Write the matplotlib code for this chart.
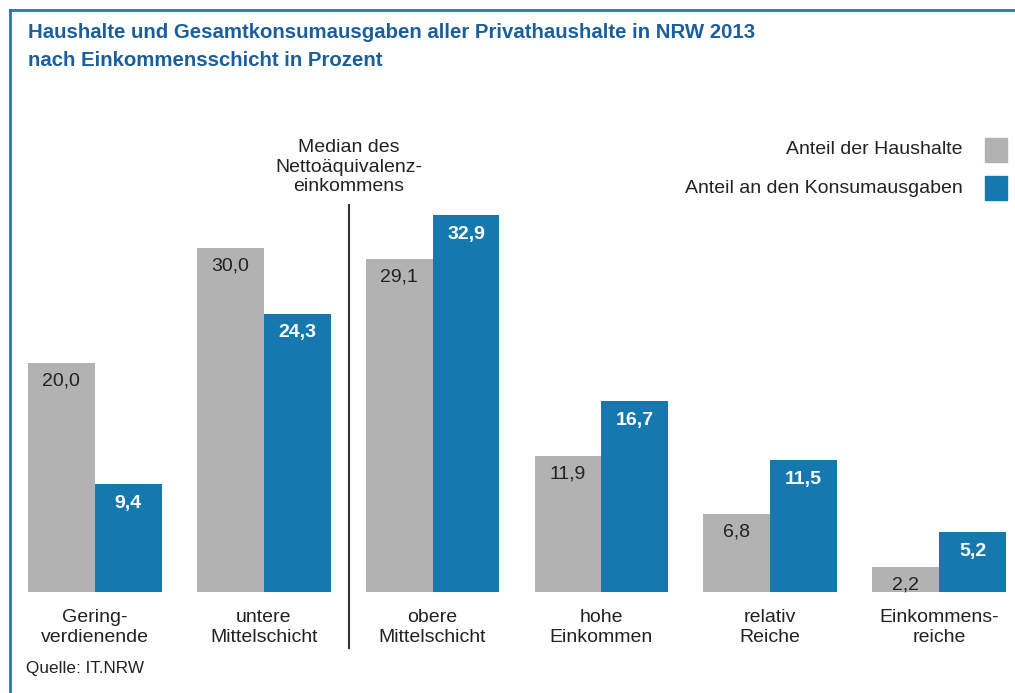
import matplotlib.pyplot as plt
from matplotlib.lines import Line2D
from matplotlib.patches import Rectangle
import numpy as np

plt.rcParams['font.family'] = ['Liberation Sans', 'DejaVu Sans']

# Data
categories = ['Gering-\nverdienende', 'untere\nMittelschicht', 'obere\nMittelschicht',
              'hohe\nEinkommen', 'relativ\nReiche', 'Einkommens-\nreiche']
haushalte = [20.0, 30.0, 29.1, 11.9, 6.8, 2.2]
konsum = [9.4, 24.3, 32.9, 16.7, 11.5, 5.2]
series_names = ['Anteil der Haushalte', 'Anteil an den Konsumausgaben']

GRAY = '#b3b2b2'
BLUE = '#1579b0'
TITLE_BLUE = '#1a5f9c'
TEXT = '#222222'
FS = 14

W, H = 1015, 693
fig = plt.figure(figsize=(W / 100, H / 100), dpi=100)


def fx(px):
    return px / W


def fy(py):
    return 1 - py / H


# frame: top and left blue lines
fig.add_artist(Line2D([fx(10), 1], [fy(10), fy(10)], color='#2a72b5', lw=2))
fig.add_artist(Line2D([fx(10), fx(10)], [fy(10), 0], color='#2a72b5', lw=2))

fig.text(fx(28), fy(33), 'Haushalte und Gesamtkonsumausgaben aller Privathaushalte in NRW 2013',
         color=TITLE_BLUE, fontsize=14.7, fontweight='bold', va='center')
fig.text(fx(28), fy(61), 'nach Einkommensschicht in Prozent',
         color=TITLE_BLUE, fontsize=14.7, fontweight='bold', va='center')

# axes: baseline at y=592 px, 0..35 units
ymax = 35
px_per_unit = 377 / 32.9
top_px = 592 - ymax * px_per_unit
ax = fig.add_axes([fx(28), fy(592), fx(1006) - fx(28), fy(top_px) - fy(592)])
w = 0.396
x = np.arange(len(categories))
ax.bar(x - w, haushalte, width=w, align='edge', color=GRAY)
ax.bar(x, konsum, width=w, align='edge', color=BLUE)
ax.set_xlim(-w, len(categories) - 1 + w)
ax.set_ylim(0, ymax)
ax.axis('off')

for i in range(len(categories)):
    ax.annotate(f'{haushalte[i]:.1f}'.replace('.', ','), (x[i] - w / 2, haushalte[i]),
                xytext=(0, -13), textcoords='offset points', ha='center', va='center',
                fontsize=FS, color=TEXT)
    ax.annotate(f'{konsum[i]:.1f}'.replace('.', ','), (x[i] + w / 2, konsum[i]),
                xytext=(0, -14), textcoords='offset points', ha='center', va='center',
                fontsize=FS, color='white', fontweight='bold')
    ax.annotate(categories[i], (x[i], 0), xytext=(0, -25.5), textcoords='offset points',
                ha='center', va='center', fontsize=FS, color=TEXT, linespacing=1.2,
                annotation_clip=False)

# median divider
fig.add_artist(Line2D([fx(349), fx(349)], [fy(205), fy(648)], color='#333333', lw=1.5))
fig.text(fx(349), fy(167), 'Median des\nNettoäquivalenz-\neinkommens', ha='center', va='center',
         fontsize=FS, color=TEXT, linespacing=1.2)

# legend
for j, (name, col) in enumerate(zip(series_names, [GRAY, BLUE])):
    yc = 150 + j * 38
    fig.add_artist(Rectangle((fx(985), fy(yc + 12)), fx(22), fy(yc - 12) - fy(yc + 12),
                             color=col, transform=fig.transFigure))
    fig.text(fx(963), fy(yc), name, ha='right', va='center', fontsize=FS, color=TEXT)

fig.text(fx(26), fy(668), 'Quelle: IT.NRW', ha='left', va='center', fontsize=12.3, color=TEXT)

fig.savefig('out.png', dpi=100)
